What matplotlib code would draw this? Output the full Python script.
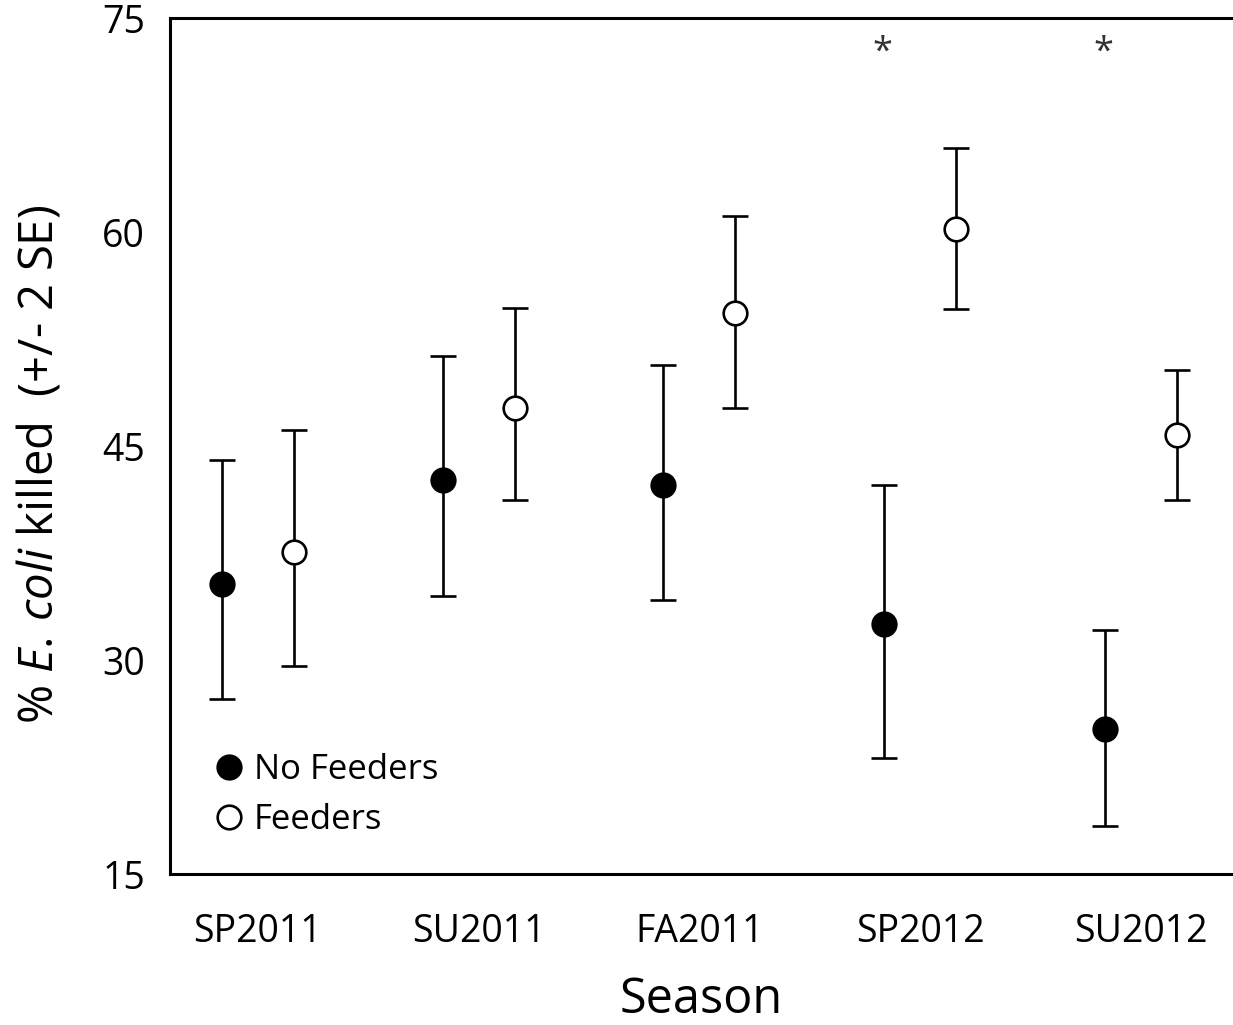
import numpy as np
import matplotlib
matplotlib.use("Agg")
from matplotlib import pyplot as plt
from matplotlib.lines import Line2D

plt.rcParams['font.family'] = ['Open Sans', 'DejaVu Sans']
plt.rcParams['mathtext.fontset'] = 'custom'
plt.rcParams['mathtext.rm'] = 'Open Sans'
plt.rcParams['mathtext.it'] = 'Open Sans:italic'

seasons = ["SP2011", "SU2011", "FA2011", "SP2012", "SU2012"]

# means, and the ends of the +/- 2 SE bars
no_feeders_mean = [35.3, 42.6, 42.3, 32.5, 25.2]
no_feeders_low = [27.3, 34.5, 34.2, 23.1, 18.4]
no_feeders_high = [44.0, 51.3, 50.7, 42.3, 32.1]

feeders_mean = [37.6, 47.7, 54.3, 60.2, 45.8]
feeders_low = [29.6, 41.2, 47.7, 54.6, 41.2]
feeders_high = [46.1, 54.7, 61.1, 65.9, 50.3]

# significant seasons (index) marked with an asterisk
star_seasons = [3, 4]
star_level = 72.6

x = np.arange(len(seasons))
offset = 0.163

fig = plt.figure(figsize=(12.33, 10.25), dpi=100)
ax = fig.add_axes([0.1379, 0.1473, 0.8621, 0.8351])


def draw_series(xs, mean, low, high, face):
    mean = np.array(mean)
    yerr = [mean - np.array(low), np.array(high) - mean]
    ax.errorbar(xs, mean, yerr=yerr, fmt='none', ecolor='black',
                elinewidth=1.9, capsize=9.5, capthick=1.9, zorder=2)
    ax.plot(xs, mean, 'o', markersize=17, markerfacecolor=face,
            markeredgecolor='black', markeredgewidth=1.9, zorder=3)


draw_series(x - offset, no_feeders_mean, no_feeders_low, no_feeders_high, 'black')
draw_series(x + offset, feeders_mean, feeders_low, feeders_high, 'white')

for i in star_seasons:
    ax.text(i - 0.17, star_level, '*', ha='center', va='center',
            fontsize=26, color='#333333')

ax.set_xlim(-0.397, 4.416)
ax.set_ylim(15, 75)
ax.set_yticks([15, 30, 45, 60, 75])
ax.set_xticks(x)
ax.set_xticklabels(seasons)

for s in ['left', 'bottom', 'top']:
    ax.spines[s].set_linewidth(2.2)
ax.spines['right'].set_visible(False)

ax.tick_params(axis='both', length=0, labelsize=27)
ax.tick_params(axis='y', pad=18)
ax.tick_params(axis='x', pad=28)

ax.set_xlabel('Season', fontsize=35, labelpad=18)
ax.set_ylabel('% $\\mathit{E.\\,coli}$ killed  (+/- 2 SE)', fontsize=34)
ax.yaxis.set_label_coords(-0.10, 0.478)

handles = [
    Line2D([], [], linestyle='none', marker='o', markersize=17,
           markerfacecolor='black', markeredgecolor='black', markeredgewidth=1.9),
    Line2D([], [], linestyle='none', marker='o', markersize=17,
           markerfacecolor='white', markeredgecolor='black', markeredgewidth=1.9),
]
ax.legend(handles, ['No Feeders', 'Feeders'], loc='lower left',
          bbox_to_anchor=(0.02, 0.027), frameon=False, fontsize=25,
          handletextpad=0.0, handlelength=1.4, labelspacing=0.45, borderaxespad=0)

fig.savefig('out.png', dpi=100)
